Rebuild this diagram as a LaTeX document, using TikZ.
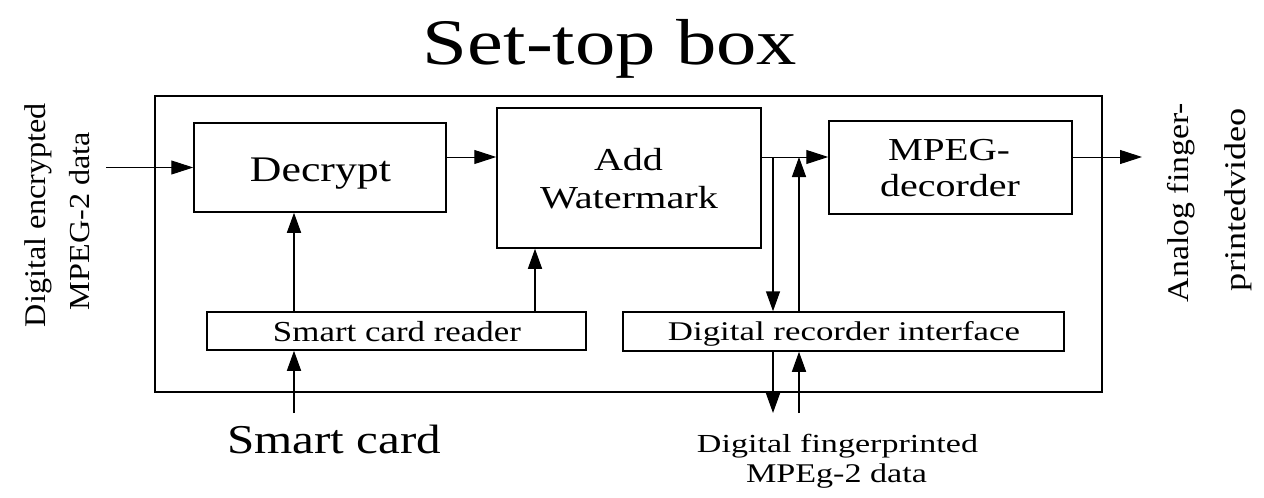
\documentclass[tikz,border=0pt]{standalone}
\usepackage{fontspec}
\setmainfont{Liberation Serif}
\usepackage{graphicx}
\usetikzlibrary{arrows.meta}
\newcommand{\fitw}[3]{\resizebox{#1pt}{\height}{\fontsize{#2}{#2}\selectfont #3}}
\tikzset{
  box/.style={draw, line width=1.5pt, inner sep=0pt, minimum width=#1},
  lbl/.style={inner sep=0pt, anchor=base},
  rlbl/.style={inner sep=0pt, anchor=base, rotate=90},
  arr/.style={line width=1.5pt, -{Triangle[length=20pt,width=14pt]}},
  harr/.style={line width=1pt, -{Triangle[length=22pt,width=14pt]}}
}
\begin{document}
\begin{tikzpicture}[x=1pt,y=-1pt]
\useasboundingbox (0,0) rectangle (1264,498);
% boxes
\node[box=947pt, minimum height=296pt] (outer) at (628.5,244) {};
\node[box=252pt, minimum height=89pt] (decrypt) at (320,167.5) {};
\node[box=264pt, minimum height=140pt] (water) at (629,178) {};
\node[box=243pt, minimum height=93pt] (mpeg) at (950.5,167.5) {};
\node[box=379pt, minimum height=38pt] (reader) at (396.5,331) {};
\node[box=441pt, minimum height=39pt] (recorder) at (843.5,331.5) {};
% texts
\node[lbl] (title) at (610,64) {\fitw{374}{65}{Set-top box}};
\node[lbl] (tdec) at (320.5,181) {\fitw{141}{36}{Decrypt}};
\node[lbl] (tadd) at (628.5,170) {\fitw{69}{32}{Add}};
\node[lbl] (twm) at (629,208) {\fitw{178}{32}{Watermark}};
\node[lbl] (tmp1) at (949,160) {\fitw{122}{32}{MPEG-}};
\node[lbl] (tmp2) at (950,196) {\fitw{140}{32}{decorder}};
\node[lbl] (trd) at (397,341) {\fitw{248}{29}{Smart card reader}};
\node[lbl] (trc) at (844,340) {\fitw{352}{27}{Digital recorder interface}};
\node[lbl] (tsc) at (334,453) {\fitw{214}{41}{Smart card}};
\node[lbl] (tfp1) at (837.5,452) {\fitw{281}{26}{Digital fingerprinted}};
\node[lbl] (tfp2) at (836.5,482) {\fitw{181}{27}{MPEg-2 data}};
\node[rlbl] (tin1) at (45,215) {\fitw{224}{30}{Digital encrypted}};
\node[rlbl] (tin2) at (89,221) {\fitw{178}{29}{MPEG-2 data}};
\node[rlbl] (tout1) at (1188,202.5) {\fitw{199}{30}{Analog finger-}};
\node[rlbl] (tout2) at (1245,199.5) {\fitw{183}{30}{printedvideo}};
% coordinates
\coordinate (inS) at (106,167.5);
\coordinate (sp) at (773,157);
\coordinate (jn) at (799,157);
\coordinate (outD) at (773,413);
\coordinate (inU) at (799,413);
\coordinate (outV) at (1142,157);
\coordinate (sc) at (294,413);
% connectors
\draw[harr] (inS) -- (decrypt.west);
\draw[harr] ([yshift=10.5pt]decrypt.east) -- ([yshift=10.5pt]decrypt.east -| water.west);
\draw[line width=1pt] ([yshift=21pt]water.east) -- (jn);
\draw[harr] (jn) -- ([yshift=10.5pt]mpeg.west);
\draw[arr] (sp) -- (sp |- recorder.north);
\draw[arr] (jn |- recorder.north) -- (jn);
\draw[arr] (sp |- recorder.south) -- (outD);
\draw[arr] (inU) -- (inU |- recorder.south);
\draw[harr] ([yshift=10.5pt]mpeg.east) -- (outV);
\draw[arr] ([xshift=-102.5pt]reader.north) -- ([xshift=-26pt]decrypt.south);
\draw[arr] ([xshift=138.5pt]reader.north) -- ([xshift=-94pt]water.south);
\draw[arr] (sc) -- (sc |- reader.south);
\end{tikzpicture}
\end{document}
